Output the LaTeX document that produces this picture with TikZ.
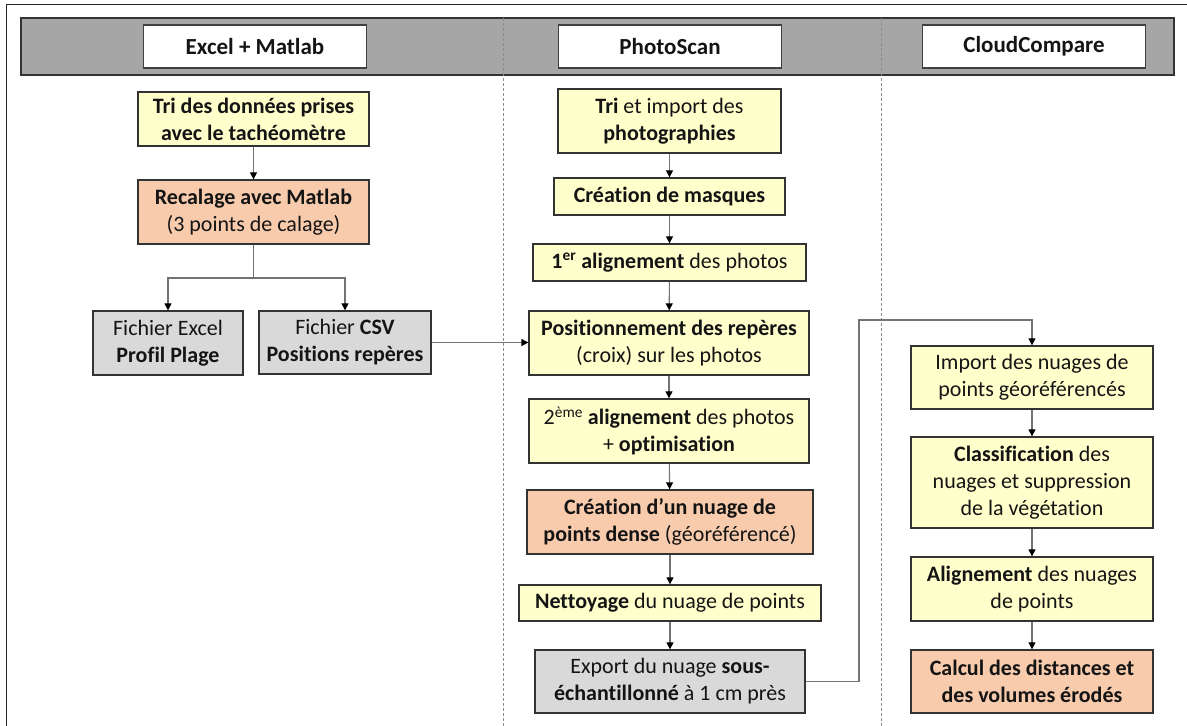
\documentclass[tikz,border=0pt]{standalone}
\usepackage{fontspec}
\setmainfont{Carlito}[Ligatures=NoCommon]
\usepackage{xcolor}
\usetikzlibrary{arrows.meta}
\definecolor{stepyellow}{HTML}{FFFFCC}
\definecolor{steporange}{HTML}{F8CBAD}
\definecolor{stepgray}{HTML}{D9D9D9}
\definecolor{bandgray}{HTML}{A6A6A6}

\begin{document}
\begin{tikzpicture}[x=1pt,y=-1pt,
  stepbox/.style={draw=black!80,line width=1.3pt,align=center,inner sep=1pt,text=black!92,font=\fontsize{22}{27}\selectfont},
  yel/.style={stepbox,fill=stepyellow},
  org/.style={stepbox,fill=steporange},
  gry/.style={stepbox,fill=stepgray},
  wh/.style 2 args={minimum width=#1,minimum height=#2},
  tool/.style={draw=black!75,line width=1.3pt,fill=white,minimum width=223,minimum height=43,text=black!92,font=\fontsize{23}{27}\selectfont\bfseries},
  link/.style={draw=black!55,line width=1.1pt,-{Triangle[color=black,length=7pt,width=7pt]}},
  lane/.style={draw=black!45,line width=0.8pt,densely dashed}]
\useasboundingbox (0,0) rectangle (1187,726);
\draw[line width=1.6pt,black!85] (6.5,726) -- (6.5,4.5) -- (1187,4.5);
\draw[line width=1.3pt,black!80,fill=bandgray] (21,18) rectangle (1174,75);
\draw[lane] (503,18) -- (503,726);
\draw[lane] (881,18) -- (881,726);
\node[tool] (hexcel) at (255,46.5) {Excel + Matlab};
\node[tool] (hphoto) at (670,46.5) {PhotoScan};
\node[tool] (hcloud) at (1034,46.5) {CloudCompare};

\node[yel,wh={231}{54}] (tri) at (253.5,119) {\textbf{Tri des données prises}\\\textbf{avec le tachéomètre}};
\node[org,wh={231}{64}] (recal) at (253.5,212) {\textbf{Recalage avec Matlab}\\(3 points de calage)};
\node[gry,wh={150}{64}] (excel) at (168,343) {Fichier Excel\\\textbf{Profil Plage}};
\node[gry,wh={172}{63}] (csv) at (345,342.5) {Fichier \textbf{CSV}\\\textbf{Positions repères}};
\coordinate (split) at (253.5,278);

\node[yel,wh={223}{64}] (import) at (669.5,121) {\textbf{Tri} et import des\\\textbf{photographies}};
\node[yel,wh={231}{37}] (masques) at (669.5,196.5) {\textbf{Création de masques}};
\node[yel,wh={273}{37}] (align1) at (669.5,262.5) {\textbf{1\textsuperscript{er} alignement} des photos};
\node[yel,wh={280}{64}] (pos) at (669,343) {\textbf{Positionnement des repères}\\(croix) sur les photos};
\node[yel,wh={280}{64}] (align2) at (669,431) {2\textsuperscript{ème} \textbf{alignement} des photos\\+ \textbf{optimisation}};
\node[org,wh={286}{64}] (dense) at (670,522) {\textbf{Création d’un nuage de}\\\textbf{points dense} (géoréférencé)};
\node[yel,wh={302}{36}] (nettoy) at (670,603) {\textbf{Nettoyage} du nuage de points};
\node[gry,wh={270}{63}] (export) at (670,681.5) {Export du nuage \textbf{sous-}\\\textbf{échantillonné} à 1 cm près};
\coordinate (up) at (859,320);

\node[yel,wh={242}{63}] (nuages) at (1032,377.5) {Import des nuages de\\points géoréférencés};
\node[yel,wh={242}{91}] (classif) at (1032,482.5) {\textbf{Classification} des\\nuages et suppression\\de la végétation};
\node[yel,wh={242}{64}] (alignc) at (1032,589) {\textbf{Alignement} des nuages\\de points};
\node[org,wh={242}{63}] (calcul) at (1032,681.5) {\textbf{Calcul des distances et}\\\textbf{des volumes érodés}};

\draw[link] (tri) -- (recal);
\draw[link] (recal.south) -- (split) -| (excel.north);
\draw[link] (split) -| (csv.north);
\draw[link] (csv.east) -- (csv.east -| pos.west);
\foreach \a/\b in {import/masques,masques/align1,align1/pos,pos/align2,align2/dense,dense/nettoy,nettoy/export,nuages/classif,classif/alignc,alignc/calcul}
  \draw[link] (\a) -- (\b);
\draw[link] (export.east) -| (up) -| (nuages.north);
\end{tikzpicture}
\end{document}
